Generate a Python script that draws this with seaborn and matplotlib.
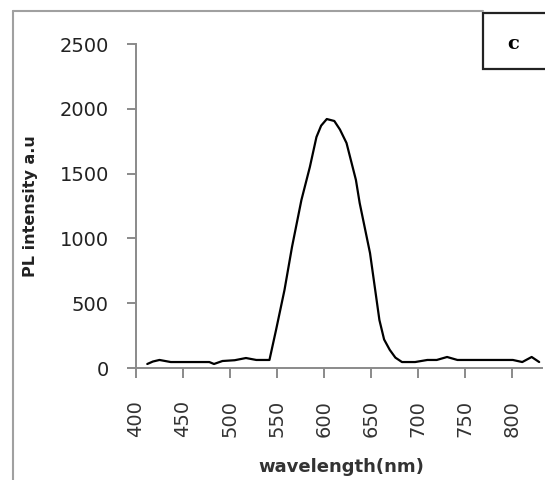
import matplotlib
matplotlib.use("Agg")
import matplotlib.pyplot as plt
import seaborn as sns
import pandas as pd
from matplotlib.patches import Rectangle
from matplotlib.lines import Line2D

wavelength = [412, 418, 425, 437, 450, 465, 478, 483, 492, 505, 517, 528, 542,
              549, 558, 566, 576, 585, 592, 597, 603, 611, 617, 624, 634, 638,
              649, 659, 664, 670, 676, 683, 697, 710, 720, 731, 742, 760, 780,
              801, 811, 821, 829]
intensity = [31, 50, 62, 46, 46, 46, 46, 31, 54, 60, 77, 62, 62,
             293, 602, 934, 1296, 1551, 1782, 1870, 1921, 1906, 1840, 1736, 1451, 1273,
             887, 370, 220, 140, 80, 46, 46, 62, 62, 85, 62, 62, 62,
             62, 46, 85, 46]
xticks = [400, 450, 500, 550, 600, 650, 700, 750, 800]
yticks = [0, 500, 1000, 1500, 2000, 2500]

df = pd.DataFrame({"wavelength": wavelength, "intensity": intensity})

sns.set_style("white")
plt.rcParams['font.family'] = ['DejaVu Sans']

W, H = 545, 480
fig = plt.figure(figsize=(W / 100, H / 100), dpi=100)
ax = fig.add_axes([136 / W, 1 - 368 / H, (542 - 136) / W, (368 - 44) / H])

sns.lineplot(data=df, x="wavelength", y="intensity", ax=ax, color="black",
             linewidth=1.6, sort=False)

ax.set_xlim(400, 832)
ax.set_ylim(0, 2500)
ax.set_xticks(xticks)
ax.set_yticks(yticks)
ax.set_xticklabels([str(v) for v in xticks], rotation=90, fontsize=14, color="#333333")
ax.set_yticklabels([str(v) for v in yticks], fontsize=14, color="#222222")
ax.tick_params(axis="y", left=True, length=6.5, width=1.4, color="#8a8a8a", pad=13, direction="out")
ax.tick_params(axis="x", bottom=True, length=7, width=1.4, color="#8a8a8a", pad=16, direction="out")
for s in ["top", "right"]:
    ax.spines[s].set_visible(False)
for s in ["left", "bottom"]:
    ax.spines[s].set_color("#8a8a8a")
    ax.spines[s].set_linewidth(1.4)
ax.set_xlabel("")
ax.set_ylabel("")

fig.text(341 / W, 1 - 467 / H, "wavelength(nm)", ha="center", va="center",
         fontsize=13, fontweight="bold", color="#333333")
fig.text(31 / W, 1 - 206 / H, "PL intensity a.u", ha="center", va="center",
         rotation=90, fontsize=11.5, fontweight="bold", color="#222222")

# outer chart frame (gray)
fig.add_artist(Line2D([13 / W, 13 / W], [1 - 11 / H, 0], transform=fig.transFigure,
                      color="#a0a0a0", linewidth=1.5))
fig.add_artist(Line2D([13 / W, 483 / W], [1 - 11 / H, 1 - 11 / H], transform=fig.transFigure,
                      color="#a0a0a0", linewidth=1.5))
# panel label box
fig.add_artist(Rectangle((483 / W, 1 - 69 / H), (560 - 483) / W, (69 - 13) / H,
                         transform=fig.transFigure, facecolor="white",
                         edgecolor="#222222", linewidth=1.6, clip_on=False))
fig.text(513 / W, 1 - 44 / H, "c", ha="center", va="center", fontsize=14,
         fontweight="bold", family="DejaVu Serif", color="black")

fig.savefig("out.png", dpi=100)
